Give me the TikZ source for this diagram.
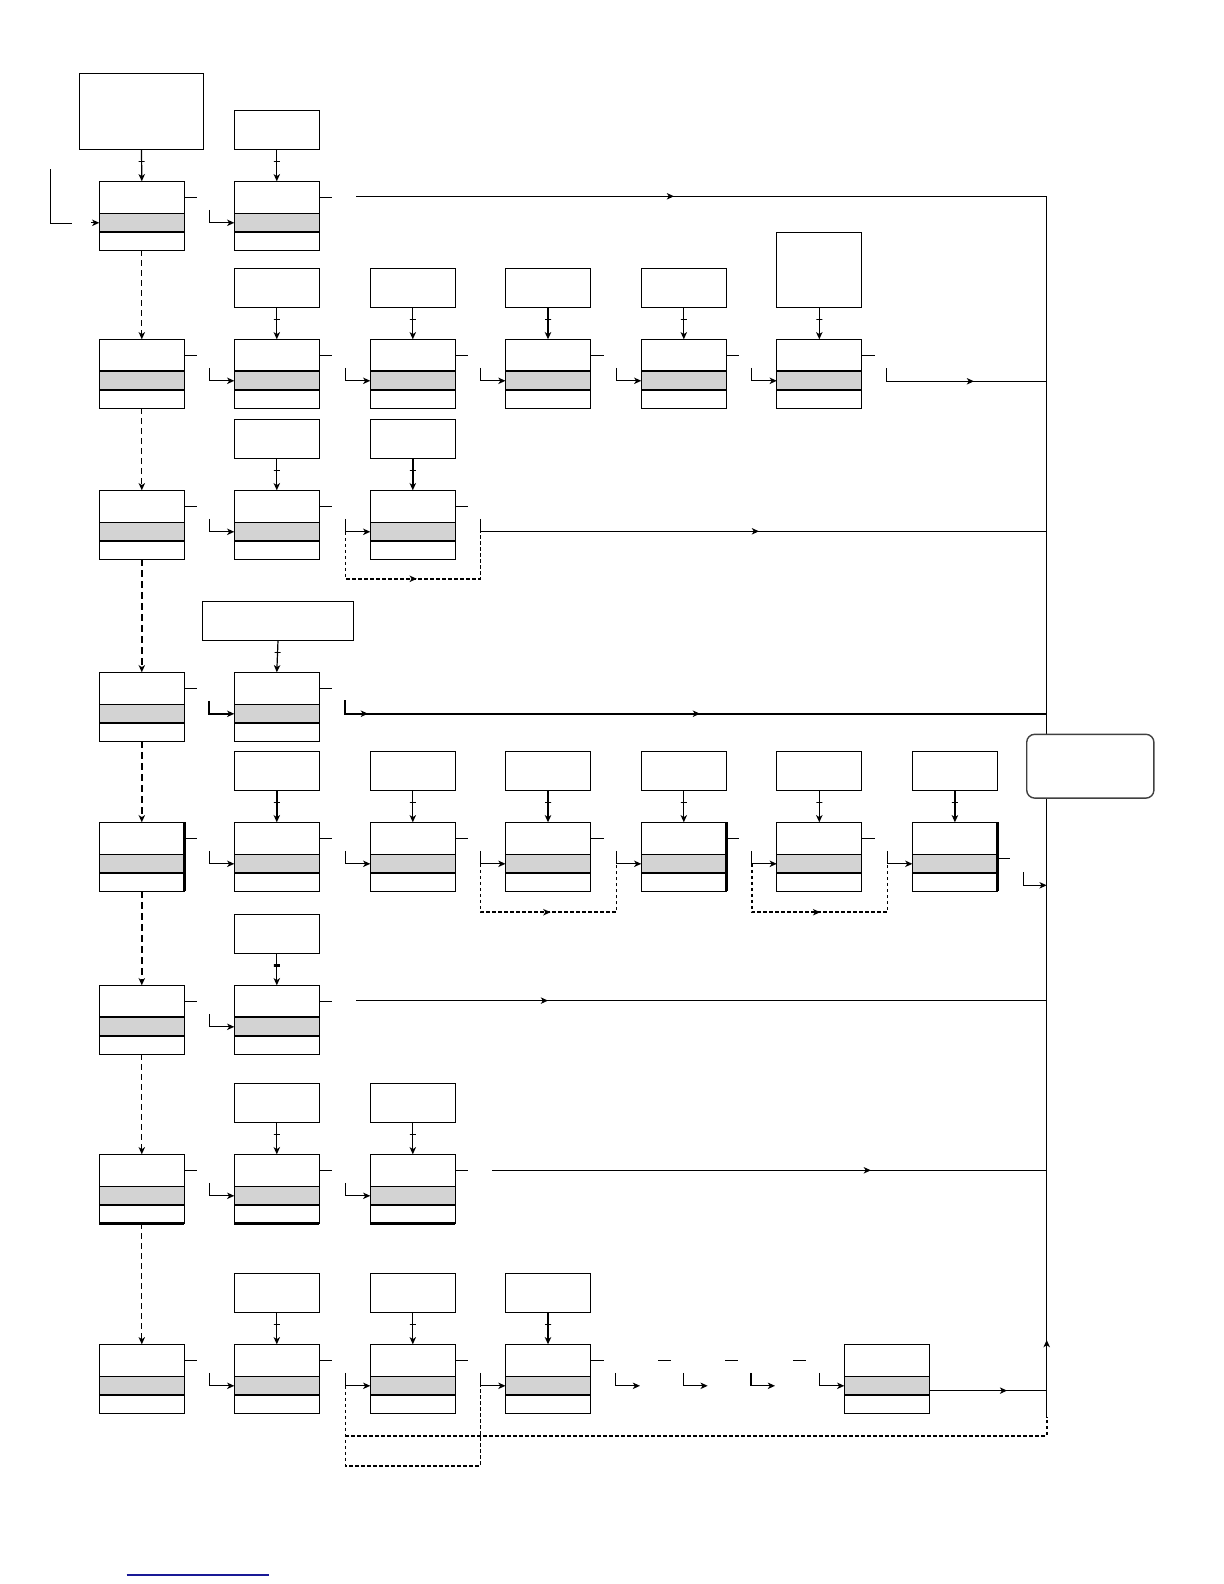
\documentclass[tikz,border=0pt]{standalone}
\usetikzlibrary{arrows.meta,calc,decorations.markings}
\definecolor{band}{RGB}{211,211,211}
\definecolor{lnk}{RGB}{25,25,150}
\newcommand\bandpic[2]{%
  \fill[band] ([yshift=-16pt]path picture bounding box.north west) rectangle ([yshift=-25.35pt]path picture bounding box.north east);
  \draw[line width=#1] ([yshift=-16pt]path picture bounding box.north west) -- ([yshift=-16pt]path picture bounding box.north east);
  \draw[line width=#2] ([yshift=-25.35pt]path picture bounding box.north west) -- ([yshift=-25.35pt]path picture bounding box.north east);}
\tikzset{
  >={Stealth[length=3.6pt,width=3.2pt,inset=1pt]},
  basebox/.style={draw, line width=0.65pt, inner sep=0pt, outer sep=0pt, anchor=north west, minimum width=42.5pt, fill=white},
  mtop/.style={basebox, minimum height=34.5pt, path picture={\bandpic{1.1pt}{0.65pt}}},
  mbot/.style={basebox, minimum height=34.5pt, path picture={\bandpic{0.65pt}{1.1pt}}},
  mplain/.style={basebox, minimum height=34.5pt, path picture={\bandpic{0.65pt}{0.65pt}}},
  tbox/.style={basebox, minimum height=19.5pt},
  thinln/.style={line width=0.6pt},
  thkln/.style={line width=1.1pt},
  tickmark/.style={draw, line width=0.6pt, minimum width=3pt, minimum height=0pt, inner sep=0pt, outer sep=0pt, shape=rectangle},
  dthin/.style={line width=0.6pt, dash pattern=on 3pt off 2pt, ->},
  dthick/.style={line width=1.1pt, dash pattern=on 3.5pt off 2pt, ->},
  dotln/.style={line width=0.8pt, dash pattern=on 1.8pt off 1.2pt},
  arrat/.style={postaction={decorate}, decoration={markings, mark=at position #1 with {\arrow{>}}}},
}
\newcommand\tconn[3][thinln]{\draw[#1,->] (#2.south) -- node[tickmark,pos=0.375]{} (#3.north);}
\newcommand\stub[1]{\draw[thinln] ($(#1.north east)+(0,16)$) -- ++(13,0);}
\newcommand\entry[2][]{\draw[thinln,->,#1] ($(#2.north west)+(-25,28.5)$) |- ($(#2.north west)+(0,41.5)$);}
\begin{document}
\begin{tikzpicture}[x=0.5pt,y=-0.5pt]
\useasboundingbox (0,0) rectangle (1224,1584);
% bus
\coordinate (busT) at (1046.7,196.3);
\coordinate (busB) at (1046.7,1417);
\draw[thinln, arrat=38.5pt] (busB) -- (busT);
\node[draw=black!75, line width=0.7pt, rounded corners=4pt, fill=white, minimum width=63.6pt, minimum height=31.9pt, anchor=north west, inner sep=0pt, outer sep=0pt] (rb) at (1026.7,734.3) {};
% Row 1
\node[tbox, minimum width=62.2pt, minimum height=38pt] (t11) at (79.3,73.3) {};
\node[tbox] (t12) at (234.3,110.3) {};
\node[mbot] (m11) at (99.3,181.3) {};
\node[mbot] (m12) at (234.3,181.3) {};
% Row 2
\node[tbox] (t22) at (234.3,268.3) {};
\node[tbox] (t23) at (370.3,268.3) {};
\node[tbox] (t24) at (505.5,268.3) {};
\node[tbox] (t25) at (641.3,268.3) {};
\node[tbox, minimum height=37.5pt] (t26) at (776.8,232.3) {};
\node[mtop] (m21) at (99.3,339.3) {};
\node[mtop] (m22) at (234.3,339.3) {};
\node[mtop] (m23) at (370.3,339.3) {};
\node[mtop] (m24) at (505.5,339.3) {};
\node[mtop] (m25) at (641.3,339.3) {};
\node[mtop] (m26) at (776.8,339.3) {};
% Row 3
\node[tbox] (t32) at (234.3,419.3) {};
\node[tbox] (t33) at (370.3,419.3) {};
\node[mbot] (m31) at (99.3,490.3) {};
\node[mbot] (m32) at (234.3,490.3) {};
\node[mbot] (m33) at (370.3,490.3) {};
% Row 4
\node[tbox, minimum width=75.7pt] (t42) at (202.3,601.3) {};
\node[mbot] (m41) at (99.3,672.3) {};
\node[mbot] (m42) at (234.3,672.3) {};
% Row 5
\node[tbox] (t52) at (234.3,751.3) {};
\node[tbox] (t53) at (370.3,751.3) {};
\node[tbox] (t54) at (505.5,751.3) {};
\node[tbox] (t55) at (641.3,751.3) {};
\node[tbox] (t56) at (776.8,751.3) {};
\node[tbox] (t57) at (912.4,751.3) {};
\node[mbot] (m51) at (99.3,822.3) {};
\node[mbot] (m52) at (234.3,822.3) {};
\node[mbot] (m53) at (370.3,822.3) {};
\node[mbot] (m54) at (505.5,822.3) {};
\node[mbot] (m55) at (641.3,822.3) {};
\node[mbot] (m56) at (776.8,822.3) {};
\node[mbot] (m57) at (912.4,822.3) {};
% Row 6
\node[tbox] (t62) at (234.3,914.3) {};
\node[mtop] (m61) at (99.3,985.3) {};
\node[mtop] (m62) at (234.3,985.3) {};
% Row 7
\node[tbox] (t72) at (234.3,1083.3) {};
\node[tbox] (t73) at (370.3,1083.3) {};
\node[mplain] (m71) at (99.3,1154.3) {};
\node[mplain] (m72) at (234.3,1154.3) {};
\node[mplain] (m73) at (370.3,1154.3) {};
% Row 8
\node[tbox] (t82) at (234.3,1273.3) {};
\node[tbox] (t83) at (370.3,1273.3) {};
\node[tbox] (t84) at (505.5,1273.3) {};
\node[mbot] (m81) at (99.3,1344.3) {};
\node[mbot] (m82) at (234.3,1344.3) {};
\node[mbot] (m83) at (370.3,1344.3) {};
\node[mbot] (m84) at (505.5,1344.3) {};
\node[mbot] (m85) at (844.3,1344.3) {};
% heavy borders
\foreach \n in {m51,m55,m57} \draw[line width=1.3pt] (\n.north east) -- (\n.south east);
\foreach \n in {m71,m72,m73} \draw[line width=1.3pt] (\n.south west) -- (\n.south east);
% column 1 links
\draw[dthin] (m11.south) -- (m21.north);
\draw[dthin] (m21.south) -- (m31.north);
\draw[dthick] (m31.south) -- (m41.north);
\draw[dthick] (m41.south) -- (m51.north);
\draw[dthick] (m51.south) -- (m61.north);
\draw[dthin] (m61.south) -- (m71.north);
\draw[dthin] (m71.south) -- (m81.north);
% top connectors
\tconn{t11}{m11}\tconn{t12}{m12}
\tconn{t22}{m22}\tconn{t23}{m23}\tconn[thkln]{t24}{m24}\tconn{t25}{m25}\tconn{t26}{m26}
\tconn{t32}{m32}\tconn[thkln]{t33}{m33}
\tconn{t42}{m42}
\tconn[thkln]{t52}{m52}\tconn{t53}{m53}\tconn{t54}{m54}\tconn{t55}{m55}\tconn{t56}{m56}\tconn{t57}{m57}
\draw[thinln,->] (t62.south) -- node[tickmark,pos=0.375,line width=1.2pt]{} (m62.north);
\tconn{t72}{m72}\tconn{t73}{m73}
\tconn{t82}{m82}\tconn{t83}{m83}\tconn[thkln]{t84}{m84}
% stubs
\foreach \n in {m11,m12,m21,m22,m23,m24,m25,m26,m31,m32,m33,m41,m42,m51,m52,m53,m54,m55,m56,m61,m62,m71,m72,m73,m81,m82,m83,m84} {\stub{\n}}
\draw[thinln] ($(m57.north east)+(0,36.4)$) -- ++(12.5,0);
% entries
\foreach \n in {m12,m22,m23,m24,m25,m26,m32,m33,m52,m53,m54,m55,m56,m57,m62,m72,m73,m82,m83,m84,m85} {\entry{\n}}
\entry[thkln]{m42}
% left entry of m11
\draw[thinln] (50.3,169) |- (71.7,223.3);
\draw[thinln,->] ($(m11.north west)+(-8,41.5)$) -- ($(m11.north west)+(0,41.5)$);
% rows to bus
\coordinate (r1s) at (356,196.3);
\draw[thinln, arrat=159pt] (r1s) -- (r1s -| busT);
\coordinate (r2s) at (886.7,368.3);
\coordinate (r2e) at (1046.7,381.3);
\draw[thinln, arrat=50.15pt] (r2s) |- (r2e);
\coordinate (r3s) at (480.3,518.8);
\coordinate (r3e) at (1046.7,531.3);
\draw[thinln, arrat=145.6pt] (r3s) |- (r3e);
\coordinate (r4s) at (345.3,700);
\coordinate (r4e) at (1046.7,713.7);
\draw[thkln, postaction={decorate}, decoration={markings, mark=at position 18.2pt with {\arrow{>}}, mark=at position 184.2pt with {\arrow{>}}}] (r4s) |- (r4e);
\coordinate (r5s) at (1023.3,872.3);
\coordinate (r5e) at (1046.7,885.3);
\draw[thinln,->] (r5s) |- (r5e);
\coordinate (r6s) at (356,1000.6);
\draw[thinln, arrat=96pt] (r6s) -- (r6s -| busT);
\coordinate (r7s) at (492.3,1170.3);
\draw[thinln, arrat=189.3pt] (r7s) -- (r7s -| busT);
\coordinate (r8s) at ($(m85.north east)+(0,46.3)$);
\draw[thinln, arrat=38.9pt] (r8s) -- (r8s -| busT);
% dotted bypasses
\draw[dotln, arrat=59.25pt] ($(m33.north west)+(-25,41.5)$) -- ++(0,47) -| ($(m33.north west)+(110,41.5)$);
\draw[dotln, arrat=59.2pt] ($(m54.north west)+(-25,41.5)$) -- ++(0,48.4) -| ($(m55.north west)+(-25,41.5)$);
\draw[dotln, arrat=58.4pt] ($(m56.north west)+(-25,41.5)$) -- ++(0,48.4) -| ($(m57.north west)+(-25,41.5)$);
\draw[dotln] ($(m83.north west)+(-25,41.5)$) -- ++(0,80) -| ($(m84.north west)+(-25,41.5)$);
\draw[dotln] ($(m83.north west)+(-25,91.4)$) -| (busB);
% ghost chain in row 8
\coordinate (v5) at (640,1344.3);
\coordinate (v6) at (707.7,1344.3);
\coordinate (v7) at (775,1344.3);
\draw[thinln,->] ($(v5)+(-24.7,28.5)$) |- ($(v5)+(0,41.5)$);
\draw[thinln,->] ($(v6)+(-24.4,28.5)$) |- ($(v6)+(0,41.5)$);
\draw[thinln,->] ($(v7)+(-24.3,28.5)$) |- ($(v7)+(0,41.5)$);
\draw[thkln] ($(v7)+(-24.3,28.5)$) -- ($(v7)+(-24.3,41.5)$);
\draw[thinln] ($(v5)+(18,16)$) -- ++(13,0);
\draw[thinln] ($(v6)+(17.6,16)$) -- ++(13,0);
\draw[thinln] ($(v7)+(18,16)$) -- ++(13,0);
% bottom blue rule
\draw[lnk, line width=0.6pt] (126.7,1575) -- (269,1575);
\end{tikzpicture}
\end{document}
